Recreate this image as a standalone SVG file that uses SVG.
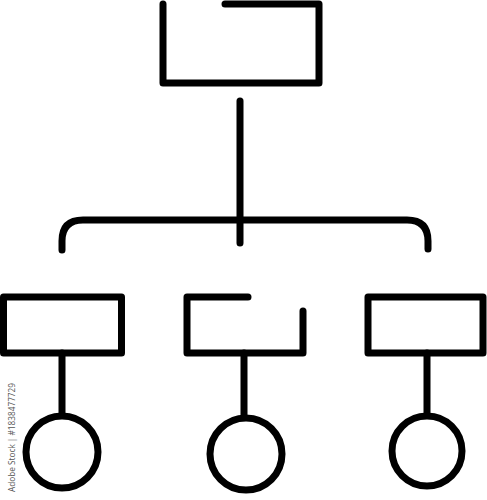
<svg xmlns="http://www.w3.org/2000/svg" width="487" height="500" viewBox="0 0 487 500">
<style>
.s{fill:none;stroke:#000;stroke-width:7;stroke-linecap:round;stroke-linejoin:round}
.wm{font-family:"Open Sans","Liberation Sans",sans-serif;font-size:8.5px;fill:#555}
</style>
<rect width="487" height="500" fill="#fff"/>
<g id="top-box"><path class="s" d="M225,4 H319 V83 H163 V4"/></g>
<g id="connectors">
<path class="s" d="M240,101 V243"/>
<path class="s" d="M62,250 V241 Q62,220 83,220 H407 Q428,220 428,241 V249"/>
<path class="s" d="M62,353 V415"/>
<path class="s" d="M244,353 V416"/>
<path class="s" d="M427,353 V414"/>
</g>
<g id="box-left"><rect class="s" x="3.5" y="297" width="118" height="56"/></g>
<g id="box-mid"><path class="s" d="M248,297 H187 V353 H303 V311"/></g>
<g id="box-right"><rect class="s" x="368" y="297" width="115" height="56"/></g>
<g id="circle-left"><circle class="s" cx="62" cy="452" r="36"/></g>
<g id="circle-mid"><circle class="s" cx="246" cy="454" r="36"/></g>
<g id="circle-right"><circle class="s" cx="427" cy="451" r="35"/></g>
<text class="wm" transform="translate(15,492) rotate(-90)" textLength="109" lengthAdjust="spacingAndGlyphs">Adobe Stock | #1838477729</text>
</svg>
